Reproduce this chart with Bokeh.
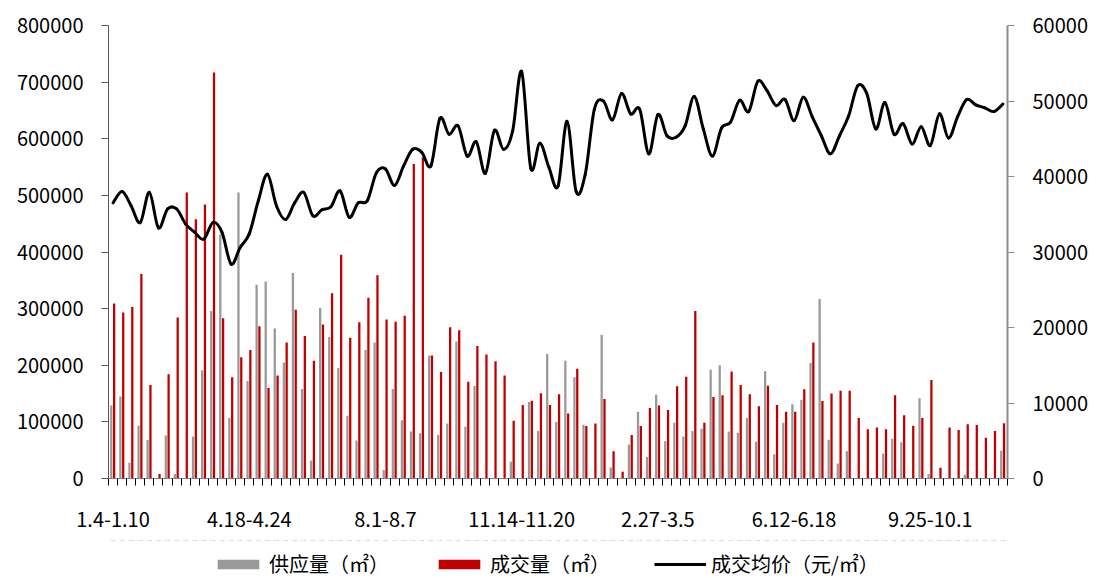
from bokeh.plotting import figure
from bokeh.models import (Range1d, LinearAxis, FixedTicker, NumeralTickFormatter,
                          Legend, LegendItem, ColumnDataSource)
from bokeh.layouts import column
from bokeh.embed import file_html
from bokeh.resources import INLINE

# ---------------- data ----------------
tick_labels = ["1.4-1.10", "4.18-4.24", "8.1-8.7", "11.14-11.20",
               "2.27-3.5", "6.12-6.18", "9.25-10.1"]
label_step = 15

supply = [129000, 145000, 28000, 93000, 68000, 0, 76000, 8000, 0, 74000,
          191000, 296000, 431000, 107000, 505000, 172000, 342000, 348000, 265000, 205000,
          363000, 158000, 32000, 301000, 250000, 195000, 111000, 67000, 227000, 240000,
          15000, 158000, 103000, 83000, 80000, 217000, 77000, 97000, 242000, 91500,
          163500, 0, 0, 0, 29500, 0, 135000, 84000, 220000, 100000,
          208000, 179000, 95000, 0, 254000, 19500, 0, 60000, 118000, 38000,
          148000, 66000, 98600, 74000, 84000, 88000, 192000, 200000, 83000, 81000,
          107000, 65000, 189500, 43000, 98600, 131000, 139000, 204000, 317000, 68500,
          26600, 48000, 0, 0, 0, 44000, 70000, 64000, 0, 141700,
          8000, 0, 0, 0, 6500, 0, 0, 0, 49000]

deal = [309000, 293000, 303000, 361000, 165000, 8000, 184000, 284500, 505000, 458000,
        484000, 717000, 283000, 179000, 214000, 227000, 269000, 160000, 182000, 240000,
        298000, 251500, 208000, 272000, 327000, 395000, 248500, 276000, 319000, 359000,
        281000, 277000, 287500, 555500, 567000, 217000, 188000, 267000, 262000, 171000,
        234000, 219000, 207000, 182000, 102000, 130000, 137500, 150500, 130000, 149000,
        115000, 194000, 92700, 97000, 140500, 48000, 12000, 77000, 92700, 124500,
        128700, 121000, 163000, 179500, 296000, 98600, 144000, 147000, 189000, 165000,
        149000, 127500, 164000, 130000, 118000, 118000, 157600, 240000, 137000, 150000,
        155000, 155000, 107000, 87000, 90000, 87000, 147000, 111500, 93000, 107000,
        174000, 19000, 90000, 85600, 95600, 94500, 72000, 84000, 97400]

price = [36500, 38000, 36100, 33900, 37900, 33200, 35700, 35700, 33700, 32600,
         31700, 33900, 32600, 28400, 30600, 32400, 36800, 40300, 36100, 34300,
         36500, 37900, 34800, 35600, 36000, 38100, 34600, 36500, 36800, 40500,
         41000, 38800, 41400, 43600, 43200, 41400, 47700, 45600, 46700, 42700,
         44600, 40400, 46100, 43600, 46000, 53900, 41100, 44400, 41200, 38700,
         47300, 38000, 40300, 48900, 50000, 47500, 51000, 48300, 48900, 43000,
         48200, 45400, 45200, 46700, 50600, 46300, 42700, 46400, 47200, 50100,
         48600, 52600, 51400, 49400, 50200, 47400, 50500, 47900, 45400, 43000,
         45400, 48000, 52000, 51000, 46300, 49800, 45600, 47000, 44300, 46600,
         44100, 48300, 45100, 47900, 50200, 49500, 49100, 48600, 49600]

series_names = ["供应量（㎡）", "成交量（㎡）", "成交均价（元/㎡）"]
colors = ["#999999", "#C00000", "black"]

# ---------------- main figure ----------------
FONT = "Noto Sans CJK SC"
n = len(price)
idx = list(range(n))

p = figure(width=1096, height=540, output_backend="svg", toolbar_location=None,
           x_range=Range1d(-0.5, n - 0.5), y_range=Range1d(0, 800000),
           min_border_left=108, min_border_right=89, min_border_top=25,
           min_border_bottom=62, x_axis_type=None, y_axis_type=None)
p.outline_line_color = None
p.xgrid.visible = False
p.ygrid.visible = False
p.extra_y_ranges = {"right": Range1d(0, 60000)}

src = ColumnDataSource(dict(
    xg=[i - 0.19 for i in idx], xr=[i + 0.12 for i in idx],
    x=idx, supply=supply, deal=deal, price=price))

p.vbar(x="xg", top="supply", width=0.25, source=src,
       fill_color=colors[0], line_color=None)
p.vbar(x="xr", top="deal", width=0.25, source=src,
       fill_color=colors[1], line_color=None)

# smooth line (Catmull-Rom -> cubic Bezier segments through the data points)
x0, y0, x1, y1, cx0, cy0, cx1, cy1 = [], [], [], [], [], [], [], []
for i in range(n - 1):
    pm = max(i - 1, 0)
    pp = min(i + 2, n - 1)
    x0.append(i); y0.append(price[i])
    x1.append(i + 1); y1.append(price[i + 1])
    cx0.append(i + (i + 1 - pm) / 6.0)
    cy0.append(price[i] + (price[i + 1] - price[pm]) / 6.0)
    cx1.append(i + 1 - (pp - i) / 6.0)
    cy1.append(price[i + 1] - (price[pp] - price[i]) / 6.0)
bsrc = ColumnDataSource(dict(x0=x0, y0=y0, x1=x1, y1=y1,
                             cx0=cx0, cy0=cy0, cx1=cx1, cy1=cy1))
p.bezier(x0="x0", y0="y0", x1="x1", y1="y1", cx0="cx0", cy0="cy0",
         cx1="cx1", cy1="cy1", source=bsrc, line_color=colors[2],
         line_width=3, line_cap="round", y_range_name="right")

# ---------------- axes ----------------
def style(ax):
    ax.major_label_text_font = FONT
    ax.major_label_text_font_size = "20px"
    ax.major_label_text_color = "black"
    ax.minor_tick_line_color = None

left = LinearAxis(ticker=FixedTicker(ticks=list(range(0, 800001, 100000))),
                  formatter=NumeralTickFormatter(format="0"))
style(left)
left.axis_line_color = "#595959"
left.major_tick_line_color = "#595959"
left.major_tick_out = 7
left.major_tick_in = 0
left.major_label_standoff = 18
p.add_layout(left, "left")

right = LinearAxis(y_range_name="right",
                   ticker=FixedTicker(ticks=list(range(0, 60001, 10000))),
                   formatter=NumeralTickFormatter(format="0"))
style(right)
right.axis_line_color = "#8c8c8c"
right.axis_line_width = 2
right.major_tick_line_color = "#8c8c8c"
right.major_tick_out = 7
right.major_tick_in = 0
right.major_label_standoff = 18
p.add_layout(right, "right")

label_pos = [k * label_step for k in range(len(tick_labels))]
bottom = LinearAxis(ticker=FixedTicker(ticks=label_pos,
                                       minor_ticks=[i - 0.5 for i in range(n + 1)]))
style(bottom)
bottom.minor_tick_line_color = "black"
bottom.minor_tick_out = 7
bottom.minor_tick_in = 0
bottom.major_tick_out = 0
bottom.major_tick_in = 0
bottom.axis_line_color = "#7f7f7f"
bottom.major_label_standoff = 26
bottom.major_label_overrides = {pos: lab for pos, lab in zip(label_pos, tick_labels)}
p.add_layout(bottom, "below")

# ---------------- legend strip (same series, value range kept off the data) ----------------
lg = figure(width=1096, height=38, output_backend="svg", toolbar_location=None,
            x_range=Range1d(-0.5, n - 0.5), y_range=Range1d(-2000000, -1000000),
            min_border_left=108, min_border_right=89, min_border_top=0,
            min_border_bottom=0, x_axis_type=None, y_axis_type=None)
lg.outline_line_color = None
lg.xgrid.visible = False
lg.ygrid.visible = False
e1 = lg.vbar(x="xg", top="supply", width=0.25, source=src,
             fill_color=colors[0], line_color=None)
e2 = lg.vbar(x="xr", top="deal", width=0.25, source=src,
             fill_color=colors[1], line_color=None)
e3 = lg.line(x="x", y="price", source=src, line_color=colors[2], line_width=3)

legend = Legend(items=[LegendItem(label=series_names[0], renderers=[e1]),
                       LegendItem(label=series_names[1], renderers=[e2]),
                       LegendItem(label=series_names[2], renderers=[e3])],
                location=(104, 0), orientation="horizontal",
                glyph_width=52, glyph_height=12, label_standoff=5, spacing=44,
                padding=0, margin=0, label_height=22,
                label_text_font=FONT, label_text_font_size="20px",
                label_text_color="black",
                border_line_color=None, background_fill_alpha=0)
lg.add_layout(legend, "center")

layout = column(p, lg, spacing=0)
open("out.html", "w").write(file_html(layout, INLINE))
